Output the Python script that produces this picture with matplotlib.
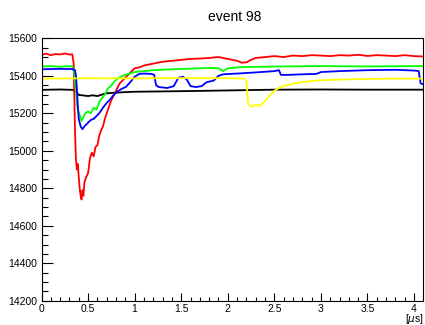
import matplotlib
matplotlib.use("Agg")
import matplotlib.pyplot as plt
from matplotlib.ticker import MultipleLocator

plt.rcParams['font.family'] = ['Liberation Sans', 'DejaVu Sans']

title = "event 98"
x_label = "[$\\mu$s]"

red = [(0, 15512), (0.05, 15518), (0.1, 15510), (0.15, 15516), (0.2, 15514), (0.25, 15519),
       (0.3, 15513), (0.33, 15515), (0.345, 15470), (0.36, 15100), (0.37, 14950), (0.38, 14900),
       (0.39, 14930), (0.40, 14860), (0.41, 14800), (0.42, 14760), (0.43, 14740), (0.44, 14790),
       (0.45, 14760), (0.46, 14830), (0.48, 14860), (0.50, 14880), (0.52, 14960), (0.54, 14990),
       (0.56, 14970), (0.58, 15020), (0.60, 15030), (0.62, 15080), (0.64, 15110), (0.66, 15130),
       (0.68, 15170), (0.70, 15200), (0.72, 15230), (0.75, 15270), (0.78, 15300), (0.81, 15330),
       (0.84, 15360), (0.88, 15380), (0.92, 15400), (0.96, 15420), (1.0, 15440), (1.05, 15445),
       (1.1, 15455), (1.2, 15465), (1.3, 15475), (1.4, 15480), (1.5, 15485), (1.6, 15490),
       (1.7, 15492), (1.8, 15495), (1.9, 15500), (2.0, 15490), (2.1, 15480), (2.15, 15470),
       (2.2, 15472), (2.25, 15485), (2.3, 15495), (2.4, 15500), (2.5, 15505), (2.6, 15500),
       (2.7, 15508), (2.8, 15505), (2.9, 15510), (3.0, 15508), (3.1, 15505), (3.2, 15510),
       (3.3, 15508), (3.4, 15512), (3.5, 15506), (3.6, 15510), (3.7, 15508), (3.8, 15505),
       (3.9, 15510), (4.0, 15505), (4.096, 15503)]

green = [(0, 15450), (0.1, 15452), (0.2, 15448), (0.3, 15452), (0.33, 15450), (0.35, 15420),
         (0.37, 15320), (0.38, 15250), (0.39, 15220), (0.41, 15190), (0.43, 15160), (0.45, 15180),
         (0.47, 15200), (0.50, 15210), (0.53, 15200), (0.56, 15230), (0.59, 15220), (0.62, 15260),
         (0.65, 15280), (0.68, 15300), (0.71, 15330), (0.75, 15350), (0.80, 15378), (0.85, 15395),
         (0.90, 15405), (1.0, 15420), (1.1, 15425), (1.2, 15430), (1.4, 15435), (1.6, 15438),
         (1.8, 15442), (1.9, 15440), (1.95, 15425), (2.0, 15440), (2.1, 15445), (2.3, 15448),
         (2.6, 15450), (3.0, 15452), (3.5, 15450), (4.096, 15452)]

blue = [(0, 15435), (0.2, 15437), (0.33, 15436), (0.36, 15430), (0.37, 15400), (0.38, 15330),
        (0.39, 15240), (0.40, 15170), (0.42, 15130), (0.44, 15115), (0.46, 15130), (0.48, 15140),
        (0.50, 15150), (0.53, 15165), (0.56, 15170), (0.59, 15185), (0.62, 15200), (0.66, 15230),
        (0.70, 15255), (0.73, 15270), (0.77, 15295), (0.81, 15315), (0.86, 15330), (0.91, 15342),
        (0.96, 15370), (1.0, 15395), (1.05, 15410), (1.1, 15412), (1.18, 15410), (1.21, 15405),
        (1.23, 15350), (1.26, 15340), (1.35, 15335), (1.42, 15345), (1.47, 15390), (1.52, 15395),
        (1.56, 15380), (1.60, 15345), (1.66, 15340), (1.72, 15345), (1.77, 15365), (1.85, 15375),
        (1.90, 15400), (1.95, 15408), (2.1, 15412), (2.3, 15418), (2.5, 15425), (2.55, 15430),
        (2.57, 15405), (2.65, 15405), (2.8, 15408), (2.95, 15410), (3.0, 15420), (3.2, 15425),
        (3.5, 15430), (3.8, 15432), (4.0, 15428), (4.05, 15425), (4.07, 15360), (4.096, 15355)]

yellow = [(0, 15385), (0.5, 15387), (1.0, 15386), (1.5, 15388), (2.0, 15387), (2.18, 15386),
          (2.2, 15370), (2.21, 15300), (2.22, 15250), (2.25, 15235), (2.3, 15245), (2.35, 15240),
          (2.4, 15265), (2.45, 15295), (2.5, 15320), (2.55, 15335), (2.6, 15345), (2.7, 15358),
          (2.8, 15366), (2.9, 15372), (3.0, 15376), (3.2, 15380), (3.5, 15383), (3.8, 15385),
          (4.096, 15385)]

black = [(0, 15325), (0.2, 15327), (0.34, 15325), (0.37, 15315), (0.40, 15298), (0.45, 15295),
         (0.50, 15292), (0.55, 15296), (0.60, 15292), (0.65, 15300), (0.70, 15307), (0.80, 15310),
         (0.90, 15313), (1.0, 15315), (1.5, 15318), (2.0, 15322), (2.5, 15326), (3.0, 15327),
         (3.5, 15326), (4.096, 15326)]

series = [(black, "#000000"), (red, "#ff0000"), (green, "#00ff00"),
          (blue, "#0000ff"), (yellow, "#ffff00")]

W, H = 425, 325
fig = plt.figure(figsize=(W / 100, H / 100), dpi=100)
ax = fig.add_axes([41.5 / W, 1 - 300.8 / H, (423 - 41.5) / W, (300.8 - 38.3) / H])

for data, col in series:
    ts = [p[0] for p in data]
    vs = [p[1] for p in data]
    ax.plot(ts, vs, color=col, lw=1.3)

ax.set_xlim(0, 4.096)
ax.set_ylim(14200, 15600)
ax.xaxis.set_major_locator(MultipleLocator(0.5))
ax.xaxis.set_minor_locator(MultipleLocator(0.1))
ax.yaxis.set_major_locator(MultipleLocator(200))
ax.yaxis.set_minor_locator(MultipleLocator(50))
ax.xaxis.set_major_formatter(matplotlib.ticker.FuncFormatter(lambda v, p: f"{v:g}"))
ax.yaxis.set_major_formatter(matplotlib.ticker.FuncFormatter(lambda v, p: f"{v:.0f}"))

ax.tick_params(axis='x', which='major', direction='in', length=5.8, width=0.8, labelsize=7.5, pad=2)
ax.tick_params(axis='x', which='minor', direction='in', length=2.9, width=0.8)
ax.tick_params(axis='y', which='major', direction='in', length=8, width=0.8, labelsize=7.5, pad=3)
ax.tick_params(axis='y', which='minor', direction='in', length=4.3, width=0.8)
for s in ax.spines.values():
    s.set_linewidth(0.8)

fig.text(235 / W, 1 - 17 / H, title, ha='center', va='center', fontsize=10)
fig.text(424 / W, 1 - 319.5 / H, x_label, ha='right', va='center', fontsize=7.5)

fig.savefig("out.png", dpi=100)
